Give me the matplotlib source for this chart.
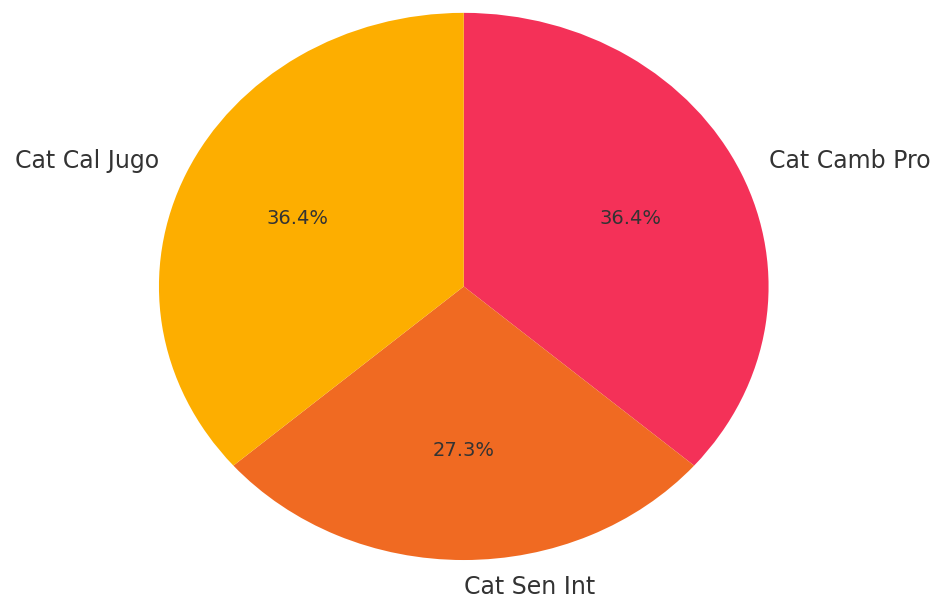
import matplotlib
matplotlib.use("Agg")
import matplotlib.pyplot as plt

labels = ["Cat Camb Pro", "Cat Sen Int", "Cat Cal Jugo"]
counts = [4, 3, 4]
colors = ["#F43158", "#F06A22", "#FDAE00"]

fig = plt.figure(figsize=(9.35, 5.98), dpi=100)
ax = fig.add_axes([0.170, 0.0635, 0.652, 0.915])

wedges, texts, autotexts = ax.pie(
    counts, labels=labels, colors=colors, autopct="%1.1f%%",
    startangle=90, counterclock=False,
    textprops={"color": "#333333"},
)
for t in texts:
    t.set_fontsize(17)
    # bottom label sits at x ~ 0; keep it growing to the right
    if abs(t.get_position()[0]) < 1e-6:
        t.set_horizontalalignment("left")
for t in autotexts:
    t.set_fontsize(14)

ax.set_aspect("auto")
ax.set_xlim(-1, 1)
ax.set_ylim(-1, 1)
ax.axis("off")

fig.savefig("out.png", dpi=100)
